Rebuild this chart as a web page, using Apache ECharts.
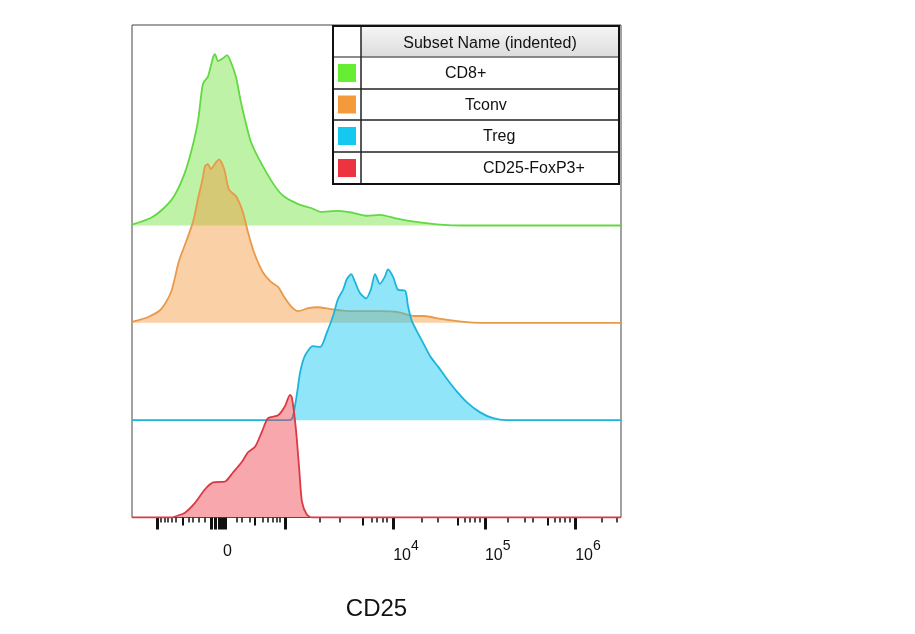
<!DOCTYPE html>
<html>
<head>
<meta charset="UTF-8">
<title>CD25 histogram</title>
<script type="text/javascript" src="https://cdn.jsdelivr.net/npm/echarts@6/dist/echarts.min.js"></script>
<style>
  html, body { margin: 0; padding: 0; background: #fff; }
</style>
</head>
<body>
	<div id="div" style="width:915px;height:634px"></div>

	<script type="text/javascript">
		// CD25 channel (0..1024 display scale) vs. count, one staggered lane per subset
		var subsets = [ 'CD8+', 'Tconv', 'Treg', 'CD25-FoxP3+' ];

		var cd8Hist = [ [0, 1], [40, 8], [67, 18], [88, 30], [109, 52], [124, 76], [138, 107],
			[147, 142], [151, 148], [159, 153], [170, 173], [174, 176], [180, 169], [191, 172],
			[199, 175], [207, 168], [218, 152], [228, 127], [239, 104], [249, 86], [264, 70],
			[297, 42], [318, 30], [348, 22], [375, 18], [396, 14], [431, 15], [463, 13],
			[492, 10], [519, 11], [555, 7], [591, 4], [645, 1], [693, 0], [1024, 0] ];

		var tconvHist = [ [0, 1], [34, 6], [61, 14], [82, 32], [98, 63], [113, 83], [128, 104],
			[138, 127], [147, 146], [153, 161], [159, 163], [165, 158], [176, 165], [182, 168],
			[193, 158], [203, 137], [218, 130], [232, 114], [243, 93], [255, 73], [274, 52],
			[291, 42], [306, 37], [318, 27], [333, 17], [348, 12], [369, 15], [389, 16],
			[417, 14], [452, 12], [486, 12], [521, 12], [557, 11], [591, 7], [611, 7],
			[647, 4], [695, 1], [730, 0], [1024, 0] ];

		var tregHist = [ [0, 0], [330, 0], [337, 4], [346, 29], [352, 49], [362, 66], [379, 76],
			[394, 75], [408, 90], [421, 107], [431, 124], [442, 134], [450, 145], [459, 150],
			[467, 142], [477, 131], [490, 125], [500, 134], [509, 150], [519, 140], [530, 148],
			[536, 155], [547, 147], [557, 134], [572, 133], [578, 117], [586, 102], [597, 91],
			[609, 80], [624, 66], [641, 55], [660, 42], [681, 29], [702, 18], [729, 8],
			[756, 2], [785, 0], [1024, 0] ];

		var cd25FoxHist = [ [0, 0], [85, 0], [90, 1], [111, 5], [132, 15], [153, 29], [170, 36],
			[195, 37], [211, 46], [230, 57], [243, 67], [258, 73], [272, 88], [285, 102],
			[306, 105], [320, 114], [331, 126], [335, 123], [343, 92], [350, 51], [356, 16],
			[366, 3], [377, 0], [1024, 0] ];

		// axis ticks in channel units
		var majorTicks = [ 52, 166, 174, 182, 189, 196, 320, 547, 739, 928 ];
		var mediumTicks = [ 107, 258, 484, 683, 871 ];
		var minorTicks = [ 61, 69, 75, 84, 92, 119, 128, 140, 153, 220, 230, 247, 274, 285, 295,
			304, 310, 394, 436, 503, 513, 526, 534, 607, 641, 697, 708, 718, 729, 787, 823,
			840, 886, 896, 907, 917, 984, 1016 ];
		var decadeTicks = [ 547, 739, 928 ];
		var decadeExp = [ '4', '5', '6' ];
		var zeroTick = 200;

		var hists = [ cd8Hist, tconvHist, tregHist, cd25FoxHist ];
		var lineColors = [ '#62d843', '#e8994a', '#1db4dc', '#d93a44' ];
		var fillColors = [ 'rgba(110,228,60,0.45)', 'rgba(245,150,60,0.45)',
			'rgba(20,200,240,0.47)', 'rgba(240,60,70,0.45)' ];
		var keyColors = [ '#66ee33', '#f59a3a', '#14c8f0', '#ee3340' ];
		var laneStep = 100;

		var mychart = echarts.init(document.getElementById('div'));
		var font = 'Liberation Sans, Arial, sans-serif';

		var series = [];
		for (var i = 0; i < hists.length; i++) {
			var off = (hists.length - 1 - i) * laneStep;
			series.push({
				name : subsets[i],
				type : 'line',
				smooth : 0.25,
				symbol : 'none',
				data : hists[i].map(function(p) { return [ p[0], p[1] + off ]; }),
				lineStyle : { color : lineColors[i], width : 1.8 },
				areaStyle : { color : fillColors[i], origin : off, opacity : 1 },
				z : 2 + i
			});
		}

		function tickAxis(ticks, len, width) {
			return {
				type : 'value', min : 0, max : 1024, position : 'bottom',
				axisLine : { show : false },
				splitLine : { show : false },
				axisTick : { show : true, length : len, customValues : ticks,
					lineStyle : { color : '#111', width : width } },
				axisLabel : { show : false }
			};
		}

		var axMajor = tickAxis(majorTicks, 12, 3);
		axMajor.axisLabel = {
			show : true, customValues : decadeTicks, align : 'left', margin : 22,
			color : '#111', fontFamily : font,
			formatter : function(v) {
				var k = decadeTicks.indexOf(v);
				return '{b|10}{s|' + decadeExp[k] + '}';
			},
			rich : {
				b : { fontSize : 16, fontFamily : font, color : '#111', verticalAlign : 'bottom' },
				s : { fontSize : 14, fontFamily : font, color : '#111', verticalAlign : 'bottom',
					padding : [ 0, 0, 10, 0 ] }
			}
		};
		axMajor.name = 'CD25';
		axMajor.nameLocation = 'middle';
		axMajor.nameGap = 80;
		axMajor.nameTextStyle = { fontSize : 24, fontFamily : font, color : '#111' };

		var axMedium = tickAxis(mediumTicks, 8, 2);
		axMedium.axisLabel = {
			show : true, customValues : [ zeroTick ], margin : 26, fontSize : 16,
			fontFamily : font, color : '#111',
			formatter : function() { return '0'; }
		};

		var axMinor = tickAxis(minorTicks, 5, 1.5);

		// legend table
		var tbl = { x : 333, y : 26, w : 286, h : 158, col : 28 };
		var rowY = [ 26, 57, 89, 120, 152, 184 ];
		var indent = [ 84, 104, 122, 122 ];
		var graphics = [];
		graphics.push({ type : 'rect', shape : { x : tbl.x + tbl.col, y : rowY[0], width : tbl.w - tbl.col, height : rowY[1] - rowY[0] },
			style : { fill : new echarts.graphic.LinearGradient(0, 0, 0, 1, [ { offset : 0, color : '#f6f6f6' }, { offset : 1, color : '#dcdcdc' } ]) }, z : 20 });
		graphics.push({ type : 'text', x : tbl.x + tbl.col + (tbl.w - tbl.col) / 2, y : (rowY[0] + rowY[1]) / 2 + 2,
			style : { text : 'Subset Name (indented)', fontSize : 16, fontFamily : font, fill : '#111', align : 'center', verticalAlign : 'middle' }, z : 21 });
		for (var r = 0; r < subsets.length; r++) {
			var cy = (rowY[r + 1] + rowY[r + 2]) / 2;
			graphics.push({ type : 'rect', shape : { x : tbl.x + 5, y : cy - 9, width : 18, height : 18 },
				style : { fill : keyColors[r] }, z : 21 });
			graphics.push({ type : 'text', x : tbl.x + tbl.col + indent[r], y : cy + 1,
				style : { text : subsets[r], fontSize : 16, fontFamily : font, fill : '#111', verticalAlign : 'middle' }, z : 21 });
			graphics.push({ type : 'line', shape : { x1 : tbl.x, y1 : rowY[r + 1], x2 : tbl.x + tbl.w, y2 : rowY[r + 1] },
				style : { stroke : r === 0 ? '#666' : '#222', lineWidth : 1.5 }, z : 22 });
		}
		graphics.push({ type : 'line', shape : { x1 : tbl.x + tbl.col, y1 : rowY[0], x2 : tbl.x + tbl.col, y2 : rowY[5] },
			style : { stroke : '#222', lineWidth : 1.5 }, z : 22 });
		graphics.push({ type : 'rect', shape : { x : tbl.x, y : tbl.y, width : tbl.w, height : tbl.h },
			style : { fill : null, stroke : '#111', lineWidth : 2 }, z : 23 });

		var option = {
			animation : false,
			backgroundColor : '#fff',
			grid : { left : 132, top : 25, width : 489, height : 492.5, show : true,
				borderColor : '#444', borderWidth : 1, backgroundColor : 'transparent' },
			xAxis : [ axMajor, axMedium, axMinor ],
			yAxis : { type : 'value', min : 0, max : 506, show : false },
			series : series,
			graphic : graphics
		};
		mychart.setOption(option);
	</script>
</body>
</html>
